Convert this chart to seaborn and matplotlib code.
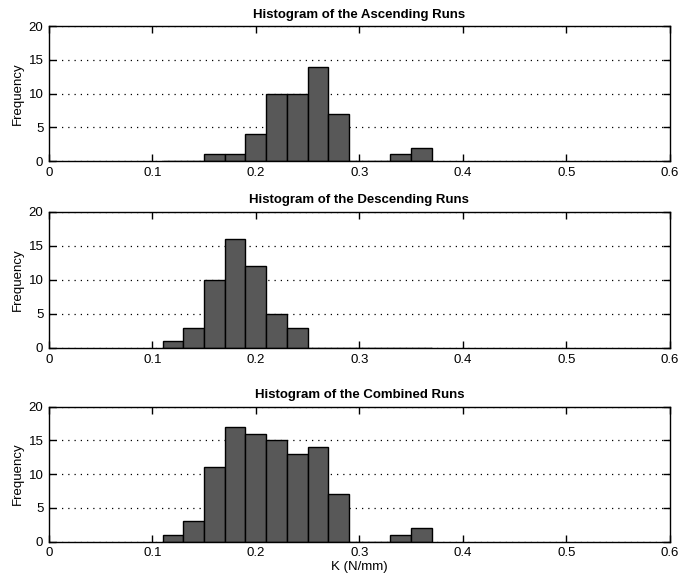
import numpy as np
import pandas as pd
import matplotlib
matplotlib.use('Agg')
import matplotlib.pyplot as plt
import seaborn as sns

# bin edges of K (N/mm), width 0.02
bin_edges = [0.11, 0.13, 0.15, 0.17, 0.19, 0.21, 0.23, 0.25, 0.27, 0.29, 0.31, 0.33, 0.35, 0.37]
bin_centres = [0.12, 0.14, 0.16, 0.18, 0.20, 0.22, 0.24, 0.26, 0.28, 0.30, 0.32, 0.34, 0.36]

asc_counts = [0, 0, 1, 1, 4, 10, 10, 14, 7, 0, 0, 1, 2]
desc_counts = [1, 3, 10, 16, 12, 5, 3, 0, 0, 0, 0, 0, 0]
comb_counts = [1, 3, 11, 17, 16, 15, 13, 14, 7, 0, 0, 1, 2]

titles = ['Histogram of the Ascending Runs',
          'Histogram of the Descending Runs',
          'Histogram of the Combined Runs']
x_ticks = [0, 0.1, 0.2, 0.3, 0.4, 0.5, 0.6]
x_ticklabels = ['0', '0.1', '0.2', '0.3', '0.4', '0.5', '0.6']
y_ticks = [0, 5, 10, 15, 20]

sns.set_style('ticks')
plt.rcParams['font.family'] = ['Liberation Sans', 'DejaVu Sans']
plt.rcParams['text.color'] = 'black'
plt.rcParams['axes.labelcolor'] = 'black'
plt.rcParams['xtick.color'] = 'black'
plt.rcParams['ytick.color'] = 'black'

fig = plt.figure(figsize=(6.99, 5.8), dpi=100)
# [left, bottom, width, height] of each panel
positions = [[0.070, 0.722, 0.888, 0.233],
             [0.070, 0.400, 0.888, 0.235],
             [0.070, 0.066, 0.888, 0.233]]

for pos, counts, title in zip(positions, [asc_counts, desc_counts, comb_counts], titles):
    ax = fig.add_axes(pos)
    df = pd.DataFrame({'K': bin_centres, 'n': counts})
    sns.histplot(data=df, x='K', weights='n', bins=bin_edges, ax=ax,
                 color='#585858', edgecolor='black', linewidth=1.0, alpha=1.0)
    ax.set_xlim(0, 0.6)
    ax.set_ylim(0, 20)
    ax.set_xticks(x_ticks)
    ax.set_xticklabels(x_ticklabels)
    ax.set_yticks(y_ticks)
    ax.yaxis.grid(True, linestyle=(0, (1, 4)), color='black', linewidth=0.9)
    ax.set_axisbelow(True)
    ax.tick_params(direction='in', length=5, top=True, right=True, labelsize=9.5,
                   width=1.0, pad=4)
    for sp in ax.spines.values():
        sp.set_linewidth(1.0)
        sp.set_color('black')
    ax.set_title(title, fontsize=9.5, fontweight='bold', pad=6)
    ax.set_ylabel('Frequency', fontsize=9.5, labelpad=3)
    ax.set_xlabel('')

ax.set_xlabel('K (N/mm)', fontsize=9.5, labelpad=1)

fig.savefig('out.png', dpi=100)
